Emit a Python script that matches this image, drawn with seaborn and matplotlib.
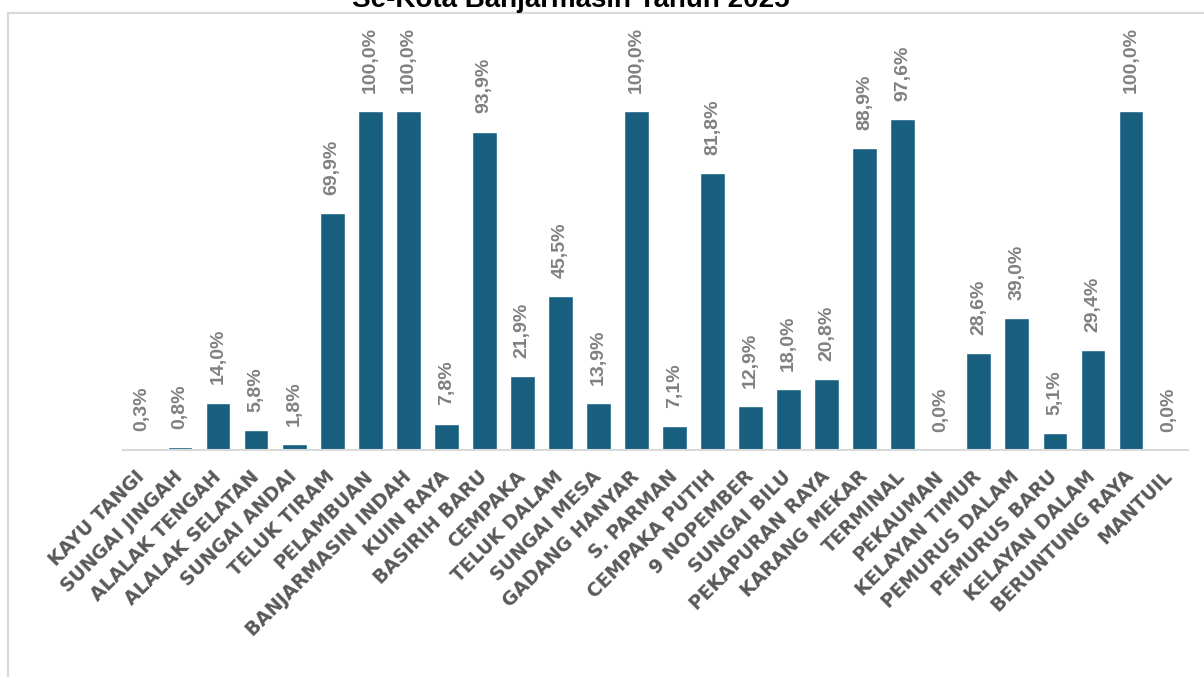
import matplotlib
matplotlib.use('Agg')
import matplotlib.pyplot as plt
from matplotlib.patches import Rectangle
import seaborn as sns
import pandas as pd

kelurahan = [
    "KAYU TANGI", "SUNGAI JINGAH", "ALALAK TENGAH", "ALALAK SELATAN", "SUNGAI ANDAI",
    "TELUK TIRAM", "PELAMBUAN", "BANJARMASIN INDAH", "KUIN RAYA", "BASIRIH BARU",
    "CEMPAKA", "TELUK DALAM", "SUNGAI MESA", "GADANG HANYAR", "S. PARMAN",
    "CEMPAKA PUTIH", "9 NOPEMBER", "SUNGAI BILU", "PEKAPURAN RAYA", "KARANG MEKAR",
    "TERMINAL", "PEKAUMAN", "KELAYAN TIMUR", "PEMURUS DALAM", "PEMURUS BARU",
    "KELAYAN DALAM", "BERUNTUNG RAYA", "MANTUIL",
]
persen = [
    0.3, 0.8, 14.0, 5.8, 1.8,
    69.9, 100.0, 100.0, 7.8, 93.9,
    21.9, 45.5, 13.9, 100.0, 7.1,
    81.8, 12.9, 18.0, 20.8, 88.9,
    97.6, 0.0, 28.6, 39.0, 5.1,
    29.4, 100.0, 0.0,
]
judul = "Se-Kota Banjarmasin Tahun 2025"

df = pd.DataFrame({"kelurahan": kelurahan, "persen": persen})

sns.set_style("white")
plt.rcParams['font.family'] = ['Liberation Sans', 'DejaVu Sans']

fig = plt.figure(figsize=(12.04, 6.77), dpi=100)

# chart frame (cropped screenshot look)
fig.patches.append(Rectangle((8 / 1204, -0.1), 1.2, 1 - 13 / 677 + 0.1,
                             transform=fig.transFigure, fill=False,
                             edgecolor='#d9d9d9', linewidth=1.5))

ax = fig.add_axes([123 / 1204, 1 - 450 / 677, 1065 / 1204, 407 / 677])
sns.barplot(data=df, x="kelurahan", y="persen", color="#185f80",
            width=0.65, saturation=1, ax=ax)
ax.set_ylim(0, 120)
ax.set_xlim(-0.5, len(kelurahan) - 0.5)

labels = [f"{v:.1f}%".replace('.', ',') for v in persen]
ax.bar_label(ax.containers[0], labels=labels, rotation=90, padding=13,
             fontsize=14, fontweight='bold', color='#808080')

ax.set_xlabel("")
ax.set_ylabel("")
ax.set_yticks([])
for s in ["left", "right", "top"]:
    ax.spines[s].set_visible(False)
ax.spines["bottom"].set_color('#d9d9d9')
ax.spines["bottom"].set_linewidth(1.5)
ax.tick_params(axis='x', length=0, pad=17)
ax.set_xticks(range(len(kelurahan)))
ax.set_xticklabels(kelurahan, rotation=45, ha='right', va='center',
                   rotation_mode='anchor', fontsize=13.5, fontweight='bold',
                   color='#595959', family='DejaVu Sans')

fig.text(571 / 1204, 1 - 7 / 677, judul, ha='center', va='baseline',
         fontsize=20, fontweight='bold', color='black')

fig.savefig("out.png", dpi=100)
